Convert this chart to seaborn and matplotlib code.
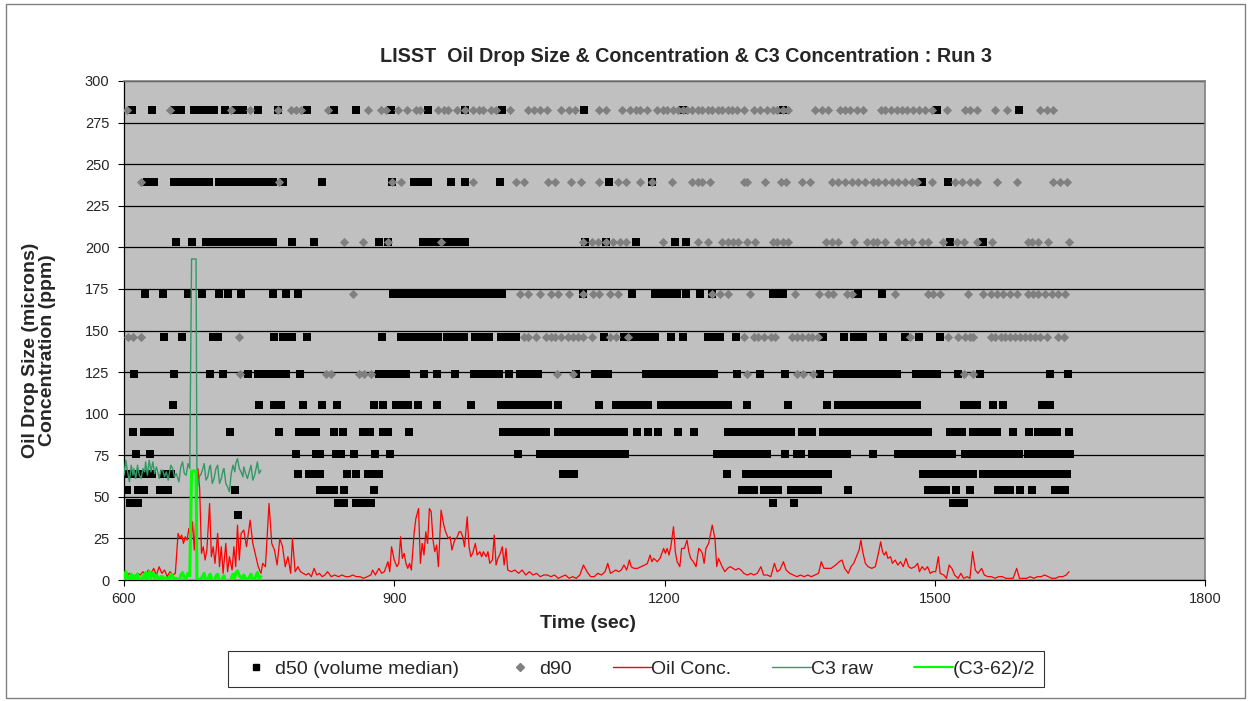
import numpy as np
import pandas as pd
import matplotlib
matplotlib.use("Agg")
import matplotlib.pyplot as plt
from matplotlib.lines import Line2D
from matplotlib.patches import Rectangle
import seaborn as sns

# ---------------------------------------------------------------
# LISST size bins (microns) in which drops were recorded
# ---------------------------------------------------------------
bin_282, bin_239, bin_203, bin_172 = 282.4, 239.4, 203.1, 172.2
bin_146, bin_124, bin_105, bin_89 = 146.0, 123.8, 105.0, 89.1
bin_75, bin_64, bin_54, bin_46, bin_39 = 75.5, 64.0, 54.3, 46.0, 39.0

# d50 (volume median) : sample times (sec) at which each bin was reported
d50_282 = [609, 631, 655, 663, 678, 682, 686, 690, 694, 698, 700, 712, 724, 732, 749, 771, 803, 833,
           857, 896, 937, 979, 1020, 1111, 1221, 1332, 1503, 1593]
d50_239 = [626, 633, 655, 659, 663, 667, 671, 675, 679, 683, 687, 691, 694, 705, 709, 713, 717, 721,
           725, 729, 733, 737, 741, 745, 749, 753, 757, 761, 765, 776, 820, 898, 922, 926, 931, 937,
           963, 978, 1017, 1138, 1186, 1486, 1515]
d50_203 = [658, 675, 691, 700, 704, 708, 712, 716, 720, 724, 728, 732, 736, 740, 744, 748, 752, 756,
           760, 765, 787, 811, 883, 893, 932, 936, 940, 944, 948, 952, 956, 960, 964, 968, 972, 976,
           979, 1112, 1135, 1168, 1212, 1224, 1517, 1554]
d50_172 = [623, 643, 671, 687, 706, 716, 730, 765, 780, 793, 899, 903, 907, 911, 915, 919, 923, 927,
           931, 935, 939, 943, 947, 951, 955, 959, 963, 967, 971, 975, 979, 983, 987, 991, 995, 999,
           1003, 1007, 1011, 1015, 1020, 1110, 1164, 1190, 1194, 1198, 1202, 1206, 1210, 1214, 1224,
           1239, 1253, 1320, 1324, 1328, 1332, 1415, 1441]
d50_146 = [644, 664, 699, 704, 766, 777, 782, 787, 803, 886, 907, 911, 915, 919, 923, 927, 929, 938,
           942, 946, 949, 959, 963, 968, 977, 990, 994, 998, 1002, 1005, 1018, 1022, 1026, 1030, 1035,
           1133, 1155, 1159, 1163, 1167, 1171, 1175, 1179, 1183, 1187, 1190, 1207, 1221, 1248, 1252,
           1256, 1260, 1262, 1279, 1376, 1399, 1410, 1414, 1418, 1420, 1443, 1467, 1483, 1506]
d50_124 = [611, 655, 695, 710, 738, 749, 753, 757, 760, 766, 770, 774, 778, 780, 795, 883, 887, 891,
           895, 899, 903, 907, 911, 913, 933, 947, 967, 988, 992, 996, 1000, 1004, 1008, 1012, 1016,
           1027, 1040, 1048, 1052, 1056, 1060, 1102, 1123, 1127, 1131, 1135, 1137, 1179, 1183, 1187,
           1191, 1195, 1199, 1203, 1207, 1210, 1215, 1219, 1223, 1227, 1231, 1235, 1239, 1243, 1247,
           1251, 1255, 1281, 1306, 1334, 1373, 1392, 1395, 1398, 1406, 1410, 1414, 1418, 1422, 1425,
           1432, 1436, 1440, 1444, 1448, 1452, 1456, 1458, 1479, 1487, 1491, 1495, 1499, 1503, 1526,
           1550, 1628, 1648]
d50_105 = [654, 750, 766, 774, 799, 820, 836, 877, 887, 902, 905, 907, 911, 915, 926, 948, 985, 1018,
           1022, 1026, 1030, 1034, 1037, 1042, 1046, 1050, 1055, 1059, 1063, 1067, 1071, 1082, 1127,
           1146, 1150, 1154, 1158, 1162, 1166, 1170, 1174, 1178, 1182, 1196, 1200, 1204, 1208, 1212,
           1216, 1220, 1224, 1228, 1232, 1236, 1240, 1244, 1248, 1251, 1259, 1263, 1267, 1270, 1292,
           1337, 1380, 1393, 1397, 1401, 1405, 1409, 1413, 1417, 1421, 1425, 1429, 1433, 1437, 1441,
           1445, 1449, 1453, 1457, 1461, 1465, 1469, 1473, 1477, 1480, 1532, 1536, 1540, 1544, 1547,
           1565, 1576, 1619, 1623, 1628]
d50_89 = [610, 622, 626, 630, 634, 638, 642, 644, 651, 718, 772, 794, 799, 804, 813, 833, 843, 865,
          873, 888, 893, 916, 1021, 1025, 1029, 1033, 1037, 1041, 1045, 1049, 1053, 1057, 1061, 1065,
          1068, 1082, 1090, 1094, 1098, 1102, 1106, 1109, 1115, 1119, 1123, 1127, 1131, 1135, 1139,
          1143, 1147, 1151, 1155, 1169, 1182, 1193, 1215, 1233, 1270, 1274, 1278, 1282, 1286, 1290,
          1298, 1302, 1306, 1310, 1318, 1325, 1329, 1333, 1337, 1340, 1353, 1357, 1361, 1364, 1376,
          1380, 1384, 1388, 1392, 1396, 1400, 1404, 1408, 1412, 1414, 1417, 1421, 1425, 1429, 1433,
          1437, 1441, 1445, 1449, 1453, 1457, 1461, 1465, 1469, 1473, 1477, 1481, 1485, 1489, 1492,
          1517, 1521, 1525, 1530, 1542, 1546, 1550, 1554, 1558, 1562, 1566, 1569, 1587, 1605, 1615,
          1619, 1623, 1627, 1631, 1636, 1649]
d50_75 = [613, 629, 791, 813, 818, 835, 841, 855, 879, 895, 1037, 1062, 1066, 1070, 1074, 1078, 1082,
          1086, 1090, 1094, 1098, 1102, 1106, 1110, 1114, 1118, 1122, 1126, 1130, 1132, 1138, 1142,
          1146, 1149, 1156, 1258, 1265, 1269, 1273, 1277, 1281, 1285, 1289, 1293, 1297, 1301, 1305,
          1309, 1314, 1334, 1347, 1351, 1364, 1368, 1372, 1376, 1380, 1384, 1388, 1392, 1396, 1400,
          1403, 1431, 1459, 1463, 1467, 1471, 1475, 1479, 1482, 1489, 1493, 1497, 1501, 1505, 1509,
          1513, 1517, 1519, 1534, 1543, 1547, 1551, 1555, 1559, 1564, 1568, 1572, 1576, 1580, 1584,
          1588, 1593, 1604, 1608, 1612, 1616, 1620, 1624, 1628, 1632, 1636, 1640, 1644, 1648, 1650]
d50_64 = [603, 605, 607, 609, 611, 613, 615, 617, 619, 621, 623, 625, 627, 629, 631, 644, 648, 652,
          793, 805, 809, 813, 818, 847, 858, 871, 875, 879, 883, 1087, 1091, 1095, 1099, 1269, 1290,
          1294, 1298, 1303, 1310, 1314, 1318, 1322, 1326, 1331, 1337, 1341, 1345, 1349, 1353, 1357,
          1361, 1365, 1369, 1373, 1377, 1382, 1487, 1491, 1495, 1499, 1503, 1510, 1517, 1521, 1525,
          1529, 1533, 1537, 1542, 1554, 1558, 1562, 1566, 1570, 1574, 1578, 1582, 1586, 1590, 1594,
          1598, 1602, 1606, 1610, 1614, 1620, 1628, 1632, 1636, 1640, 1644, 1647]
d50_54 = [603, 616, 619, 622, 640, 644, 649, 723, 818, 822, 826, 830, 833, 844, 878, 1286, 1290, 1294,
          1299, 1310, 1314, 1318, 1322, 1326, 1340, 1349, 1353, 1357, 1361, 1365, 1370, 1404, 1493,
          1497, 1501, 1505, 1509, 1512, 1524, 1539, 1570, 1574, 1578, 1584, 1595, 1608, 1634, 1638,
          1642, 1645]
d50_46 = [607, 616, 838, 844, 857, 861, 865, 869, 874, 1320, 1344, 1520, 1524, 1528, 1532]
d50_39 = [726]

# d90 : sample times (sec) at which each bin was reported
d90_282 = [603, 651, 719, 740, 771, 785, 791, 796, 827, 871, 885, 891, 904, 914, 924, 929, 949, 955,
           960, 970, 979, 987, 994, 999, 1007, 1013, 1029, 1048, 1055, 1062, 1070, 1085, 1094, 1101,
           1127, 1135, 1153, 1162, 1168, 1173, 1181, 1192, 1198, 1203, 1209, 1215, 1220, 1225, 1231,
           1237, 1242, 1248, 1253, 1259, 1264, 1270, 1275, 1281, 1288, 1299, 1306, 1314, 1320, 1325,
           1332, 1337, 1367, 1375, 1382, 1395, 1400, 1406, 1414, 1420, 1440, 1445, 1451, 1458, 1464,
           1469, 1476, 1482, 1489, 1497, 1514, 1534, 1539, 1547, 1567, 1580, 1617, 1625, 1631]
d90_239 = [619, 772, 898, 907, 987, 1035, 1044, 1071, 1079, 1096, 1107, 1127, 1148, 1157, 1173, 1186,
           1208, 1231, 1237, 1242, 1251, 1288, 1292, 1312, 1329, 1335, 1353, 1362, 1386, 1393, 1400,
           1408, 1415, 1423, 1431, 1437, 1445, 1453, 1459, 1467, 1475, 1480, 1497, 1523, 1530, 1539,
           1547, 1569, 1591, 1631, 1639, 1647]
d90_203 = [844, 865, 893, 952, 1109, 1120, 1126, 1135, 1143, 1151, 1157, 1198, 1237, 1248, 1264, 1271,
           1276, 1282, 1292, 1301, 1320, 1325, 1331, 1337, 1379, 1386, 1393, 1410, 1425, 1431, 1436,
           1445, 1459, 1467, 1475, 1486, 1493, 1509, 1525, 1532, 1547, 1564, 1603, 1608, 1615, 1626,
           1649]
d90_172 = [854, 1040, 1049, 1062, 1074, 1082, 1094, 1110, 1121, 1127, 1140, 1148, 1253, 1262, 1271,
           1295, 1345, 1371, 1381, 1387, 1403, 1408, 1456, 1492, 1498, 1506, 1537, 1554, 1562, 1569,
           1576, 1584, 1591, 1604, 1609, 1615, 1622, 1630, 1637, 1645]
d90_146 = [604, 610, 619, 728, 1044, 1049, 1057, 1068, 1074, 1079, 1085, 1093, 1098, 1104, 1110, 1120,
           1140, 1146, 1159, 1288, 1299, 1304, 1310, 1318, 1323, 1342, 1347, 1353, 1359, 1364, 1370,
           1473, 1515, 1526, 1534, 1539, 1543, 1562, 1567, 1573, 1578, 1584, 1589, 1595, 1600, 1606,
           1611, 1617, 1625, 1637, 1643]
d90_124 = [729, 824, 830, 861, 866, 874, 1081, 1098, 1292, 1347, 1354, 1365, 1532, 1543]

# Oil concentration (ppm)
oil_time = [600, 603, 606, 609, 612, 615, 618, 621, 624, 627,
            630, 633, 636, 639, 642, 645, 648, 651, 654, 657,
            660, 662, 664, 666, 668, 670, 672, 674, 676, 678,
            680, 682, 684, 686, 688, 690, 692, 695, 697, 699,
            701, 704, 706, 708, 710, 713, 715, 717, 720, 722,
            724, 726, 728, 730, 733, 736, 740, 743, 746, 749,
            752, 754, 757, 761, 764, 767, 770, 773, 776, 779,
            782, 785, 787, 790, 793, 796, 799, 802, 805, 808,
            811, 814, 817, 820, 823, 826, 830, 834, 838, 842,
            846, 850, 854, 858, 862, 866, 870, 874, 876, 879,
            883, 886, 889, 893, 895, 897, 900, 903, 905, 907,
            909, 911, 913, 915, 917, 919, 922, 924, 927, 929,
            931, 933, 935, 937, 939, 941, 943, 945, 947, 949,
            952, 955, 957, 960, 962, 964, 967, 970, 972, 974,
            976, 978, 981, 983, 985, 987, 990, 992, 995, 997,
            999, 1002, 1004, 1006, 1009, 1011, 1013, 1015, 1017, 1020,
            1022, 1024, 1026, 1030, 1034, 1038, 1042, 1046, 1050, 1054,
            1058, 1062, 1066, 1070, 1074, 1078, 1082, 1086, 1090, 1094,
            1098, 1102, 1106, 1110, 1114, 1118, 1122, 1126, 1130, 1134,
            1137, 1140, 1143, 1146, 1149, 1152, 1155, 1158, 1161, 1163,
            1166, 1170, 1174, 1178, 1181, 1184, 1186, 1188, 1192, 1195,
            1199, 1201, 1203, 1205, 1207, 1210, 1212, 1214, 1217, 1219,
            1222, 1225, 1227, 1229, 1232, 1235, 1238, 1240, 1242, 1244,
            1246, 1249, 1253, 1256, 1258, 1260, 1264, 1267, 1270, 1273,
            1276, 1279, 1282, 1285, 1288, 1292, 1296, 1299, 1303, 1307,
            1310, 1314, 1318, 1322, 1325, 1328, 1332, 1335, 1339, 1343,
            1347, 1351, 1355, 1359, 1363, 1367, 1371, 1374, 1377, 1380,
            1385, 1390, 1394, 1397, 1400, 1404, 1407, 1410, 1413, 1416,
            1418, 1420, 1423, 1426, 1430, 1434, 1437, 1440, 1442, 1444,
            1446, 1448, 1451, 1453, 1456, 1459, 1462, 1465, 1468, 1471,
            1474, 1478, 1481, 1483, 1486, 1489, 1492, 1495, 1498, 1501,
            1504, 1506, 1510, 1513, 1516, 1519, 1522, 1526, 1529, 1532,
            1536, 1539, 1542, 1545, 1548, 1552, 1555, 1559, 1563, 1567,
            1571, 1575, 1579, 1583, 1587, 1591, 1594, 1598, 1602, 1606,
            1610, 1614, 1618, 1622, 1626, 1630, 1634, 1638, 1642, 1646,
            1649]
oil_ppm = [5, 2, 4, 3, 2, 4, 3, 5, 3, 6,
           4, 7, 3, 8, 4, 6, 2, 5, 3, 4,
           28, 25, 27, 22, 26, 24, 31, 23, 35, 18,
           40, 67, 55, 16, 20, 12, 18, 46, 14, 20,
           10, 28, 8, 20, 4, 22, 5, 14, 6, 20,
           8, 33, 12, 28, 30, 20, 36, 22, 15, 8,
           4, 10, 8, 46, 22, 18, 9, 25, 20, 8,
           14, 4, 25, 5, 8, 5, 4, 3, 4, 2,
           7, 3, 4, 2, 3, 5, 2, 3, 2, 3,
           2, 2, 3, 2, 2, 1, 2, 3, 6, 3,
           7, 4, 5, 11, 5, 20, 12, 8, 10, 26,
           13, 16, 10, 7, 10, 6, 28, 37, 43, 10,
           22, 15, 29, 22, 43, 41, 24, 17, 21, 8,
           42, 33, 29, 25, 26, 18, 24, 26, 29, 29,
           26, 20, 38, 20, 14, 16, 22, 15, 17, 14,
           17, 14, 17, 10, 12, 27, 9, 13, 15, 20,
           9, 19, 6, 5, 6, 4, 6, 3, 5, 3,
           4, 2, 3, 3, 2, 3, 1, 2, 3, 1,
           2, 1, 3, 9, 5, 2, 2, 4, 3, 5,
           10, 4, 5, 6, 5, 6, 9, 6, 12, 8,
           7, 7, 8, 9, 10, 15, 11, 13, 11, 13,
           19, 16, 19, 15, 20, 32, 17, 11, 8, 19,
           19, 24, 17, 13, 11, 8, 19, 18, 16, 10,
           19, 22, 33, 25, 8, 13, 8, 5, 7, 8,
           7, 6, 7, 6, 4, 3, 4, 3, 4, 8,
           3, 3, 2, 10, 5, 6, 11, 6, 4, 3,
           2, 3, 2, 3, 2, 3, 4, 11, 7, 7,
           7, 9, 11, 12, 7, 4, 8, 10, 14, 18,
           24, 17, 10, 8, 7, 8, 15, 23, 17, 15,
           17, 13, 14, 10, 12, 9, 11, 8, 13, 8,
           7, 8, 10, 5, 8, 6, 8, 4, 5, 5,
           14, 4, 3, 1, 9, 7, 3, 1, 4, 1,
           2, 1, 17, 6, 4, 7, 3, 2, 2, 1,
           2, 2, 1, 1, 1, 7, 1, 1, 1, 2,
           1, 2, 2, 3, 2, 1, 1, 2, 2, 3,
           5]

# C3 sensor, raw reading
c3_time = [600, 602, 604, 606, 608, 610, 611, 613, 615, 617, 619,
           621, 623, 624, 626, 628, 630, 632, 634, 636, 637,
           639, 641, 643, 645, 647, 649, 650, 652, 654, 656,
           658, 661, 663, 665, 667, 669, 671, 673, 675, 680,
           681, 682, 684, 685, 687, 689, 691, 693, 695, 696,
           698, 700, 702, 704, 706, 708, 710, 711, 713, 715,
           717, 719, 721, 723, 724, 726, 728, 730, 732, 733,
           735, 737, 739, 741, 743, 745, 747, 748, 750, 752]
c3_raw = [63, 72, 65, 59, 69, 63, 67, 61, 69, 63, 61,
          67, 65, 71, 63, 72, 65, 71, 64, 68, 66,
          61, 66, 66, 62, 65, 60, 63, 69, 67, 62,
          64, 59, 68, 71, 64, 63, 70, 67, 193, 193,
          55, 57, 63, 63, 66, 70, 60, 62, 68, 69,
          58, 61, 67, 69, 58, 61, 66, 67, 58, 56,
          53, 64, 69, 65, 70, 73, 67, 65, 62, 68,
          64, 61, 65, 69, 60, 63, 68, 71, 64, 66]

y_ticks = [0, 25, 50, 75, 100, 125, 150, 175, 200, 225, 250, 275, 300]
x_ticks = [600, 900, 1200, 1500, 1800]

# ---------------------------------------------------------------
# Tables for seaborn
# ---------------------------------------------------------------
d50_bins = [(bin_282, d50_282), (bin_239, d50_239), (bin_203, d50_203), (bin_172, d50_172),
            (bin_146, d50_146), (bin_124, d50_124), (bin_105, d50_105), (bin_89, d50_89),
            (bin_75, d50_75), (bin_64, d50_64), (bin_54, d50_54), (bin_46, d50_46), (bin_39, d50_39)]
d90_bins = [(bin_282, d90_282), (bin_239, d90_239), (bin_203, d90_203), (bin_172, d90_172),
            (bin_146, d90_146), (bin_124, d90_124)]

d50_df = pd.DataFrame([(t, b) for b, ts in d50_bins for t in ts], columns=["time", "size"])
d90_df = pd.DataFrame([(t, b) for b, ts in d90_bins for t in ts], columns=["time", "size"])
assert len(oil_time) == len(oil_ppm)
assert len(c3_time) == len(c3_raw)
oil_df = pd.DataFrame({"time": oil_time, "ppm": oil_ppm})
c3_df = pd.DataFrame({"time": c3_time, "raw": c3_raw})
c3_df["scaled"] = (c3_df["raw"] - 62) / 2

# ---------------------------------------------------------------
# Figure
# ---------------------------------------------------------------
sns.set_theme(style="white")
plt.rcParams["font.family"] = ["Liberation Sans", "DejaVu Sans"]

W, H = 1251, 701
fig = plt.figure(figsize=(W / 100, H / 100), dpi=100)
fig.patch.set_facecolor("white")
ax = fig.add_axes([124 / W, 1 - 580 / H, (1205 - 124) / W, (580 - 81) / H])
ax.set_facecolor("#C0C0C0")

C_OIL, C_C3, C_C3S, C_D90 = "#FF0000", "#339966", "#00FF00", "#808080"

sns.scatterplot(data=d50_df, x="time", y="size", marker="s", s=32, color="black",
                edgecolor="black", linewidth=0, ax=ax, legend=False, zorder=3)
sns.scatterplot(data=d90_df, x="time", y="size", marker="D", s=22, color=C_D90,
                edgecolor=C_D90, linewidth=0, ax=ax, legend=False, zorder=3)
sns.lineplot(data=oil_df, x="time", y="ppm", color=C_OIL, lw=0.9, estimator=None,
             sort=False, ax=ax, legend=False, zorder=4)
sns.lineplot(data=c3_df, x="time", y="raw", color=C_C3, lw=1.0, estimator=None,
             sort=False, ax=ax, legend=False, zorder=4)
sns.lineplot(data=c3_df, x="time", y="scaled", color=C_C3S, lw=2.2, estimator=None,
             sort=False, ax=ax, legend=False, zorder=5)

ax.set_xlim(600, 1800)
ax.set_ylim(0, 300)
ax.set_xticks(x_ticks)
ax.set_yticks(y_ticks)
ax.yaxis.grid(True, color="black", lw=0.9)
ax.xaxis.grid(False)
ax.set_axisbelow(True)
ax.tick_params(axis="both", direction="out", length=4.5, width=0.8, color="black",
               labelsize=10.5, left=True, bottom=True)
ax.tick_params(axis="y", pad=6)
ax.tick_params(axis="x", pad=4)
ax.set_xlabel("")
ax.set_ylabel("")
for side in ("left", "bottom"):
    ax.spines[side].set_color("black")
    ax.spines[side].set_linewidth(0.9)
for side in ("top", "right"):
    ax.spines[side].set_color("#808080")
    ax.spines[side].set_linewidth(1.2)

fig.text(686 / W, 1 - 57 / H,
         "LISST  Oil Drop Size & Concentration & C3 Concentration : Run 3",
         ha="center", va="center", fontsize=14.2, fontweight="bold")
fig.text(39 / W, 1 - 350 / H, "Oil Drop Size (microns)\nConcentration (ppm)",
         rotation=90, ha="center", va="center", fontsize=14, fontweight="bold",
         linespacing=1.0, multialignment="center")
fig.text(588 / W, 1 - 623 / H, "Time (sec)", ha="center", va="center",
         fontsize=14, fontweight="bold")

handles = [
    Line2D([], [], marker="s", color="black", ls="none", markersize=5),
    Line2D([], [], marker="D", color=C_D90, ls="none", markersize=4),
    Line2D([], [], color=C_OIL, lw=1.0),
    Line2D([], [], color=C_C3, lw=1.0),
    Line2D([], [], color=C_C3S, lw=1.5),
]
labels = ["d50 (volume median)", "d90", "Oil Conc.", "C3 raw", "(C3-62)/2"]
leg = fig.legend(handles, labels, loc="center", bbox_to_anchor=(636 / W, 1 - 669 / H),
                 ncol=5, frameon=True, fancybox=False, edgecolor="black", fontsize=14,
                 handlelength=2.0, handletextpad=0.0, columnspacing=2.1, borderpad=0.45,
                 borderaxespad=0.0)
leg.get_frame().set_linewidth(0.8)

fig.patches.append(Rectangle((6 / W, 3 / H), (1245 - 6) / W, (697 - 3) / H,
                             transform=fig.transFigure, fill=False,
                             edgecolor="#808080", lw=1.0))

fig.savefig("out.png", dpi=100)
